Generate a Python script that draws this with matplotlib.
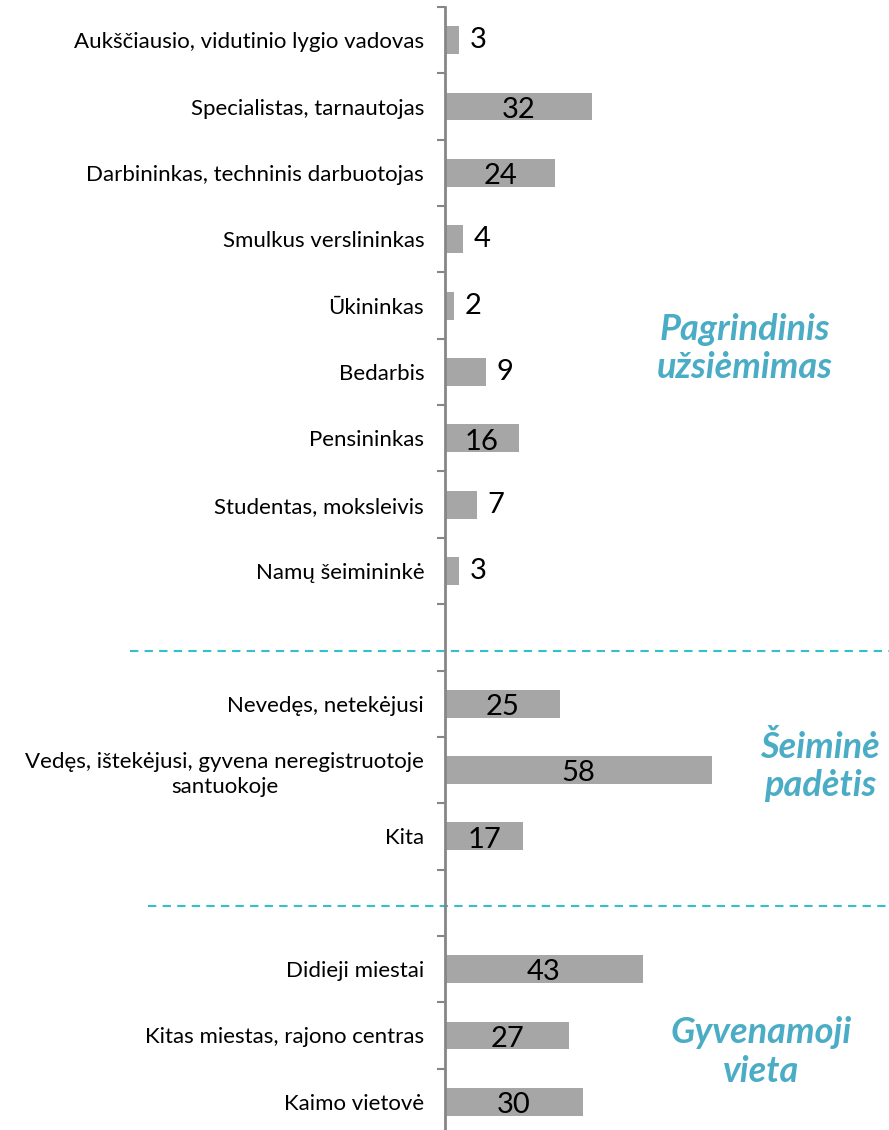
import numpy as np
import matplotlib
matplotlib.use('Agg')
import matplotlib.pyplot as plt
from matplotlib.transforms import blended_transform_factory

plt.rcParams['font.family'] = ['Lato', 'DejaVu Sans']

# categories in three groups, separated by one empty slot
occupation = ['Aukščiausio, vidutinio lygio vadovas', 'Specialistas, tarnautojas',
              'Darbininkas, techninis darbuotojas', 'Smulkus verslininkas', 'Ūkininkas',
              'Bedarbis', 'Pensininkas', 'Studentas, moksleivis', 'Namų šeimininkė']
occupation_vals = [3, 32, 24, 4, 2, 9, 16, 7, 3]

family = ['Nevedęs, netekėjusi', 'Vedęs, ištekėjusi, gyvena neregistruotoje\nsantuokoje', 'Kita']
family_vals = [25, 58, 17]

place = ['Didieji miestai', 'Kitas miestas, rajono centras', 'Kaimo vietovė']
place_vals = [43, 27, 30]

group_titles = ['Pagrindinis\nužsiėmimas', 'Šeiminė\npadėtis', 'Gyvenamoji\nvieta']

labels = occupation + [''] + family + [''] + place
values = occupation_vals + [np.nan] + family_vals + [np.nan] + place_vals
pos = np.arange(len(labels))

fig = plt.figure(figsize=(8.89, 11.30), dpi=100)
ax = fig.add_axes([445 / 889, 1 - 1135 / 1130, 444 / 889, 1128 / 1130])

ax.barh(pos, values, height=0.42, color='#A6A6A6')

for p, v in zip(pos, values):
    if np.isnan(v):
        continue
    if v < 10:
        ax.text(v + 2.3, p, str(v), ha='left', va='center', fontsize=21)
    else:
        ax.text(v / 2, p + 0.05, str(v), ha='center', va='center', fontsize=21)

ax.set_xlim(0, 96.5)
ax.set_ylim(len(labels) - 0.5, -0.5)

ax.set_yticks(pos)
ax.set_yticklabels(labels, fontsize=16, multialignment='center', linespacing=1.3)
ax.tick_params(axis='y', which='major', length=0, pad=15)
ax.set_yticks(np.arange(-0.5, len(labels)), minor=True)
ax.tick_params(axis='y', which='minor', length=6, width=1.5, color='#868686', direction='out')
ax.set_xticks([])

for s in ['top', 'right', 'bottom']:
    ax.spines[s].set_visible(False)
ax.spines['left'].set_color('#868686')
ax.spines['left'].set_linewidth(2)

# dashed separators between groups
tr = blended_transform_factory(fig.transFigure, ax.transData)
ax.plot([130 / 889, 1], [9.2, 9.2], transform=tr, clip_on=False,
        color='#33C0CC', lw=1.5, ls=(0, (4, 3)))
ax.plot([148 / 889, 1], [13.05, 13.05], transform=tr, clip_on=False,
        color='#33C0CC', lw=1.5, ls=(0, (4, 3)))

title_x = [65.2, 81.5, 68.8]
title_y = [4.65, 10.95, 15.25]
for t, x, y in zip(group_titles, title_x, title_y):
    ax.text(x, y, t, ha='center', va='center', fontsize=26, fontweight='bold',
            fontstyle='italic', color='#4BACC6', linespacing=1.2)

fig.savefig('out.png', dpi=100)
